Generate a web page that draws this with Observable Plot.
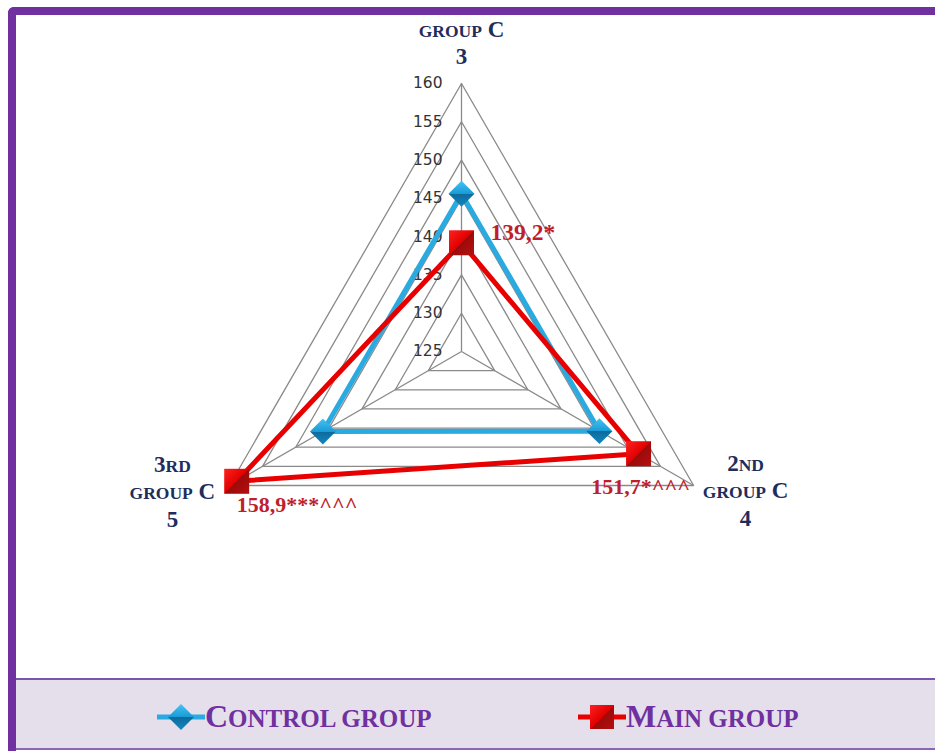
<!DOCTYPE html>
<html><head><meta charset="utf-8">
<script src="https://cdn.jsdelivr.net/npm/d3@7"></script>
<script src="https://cdn.jsdelivr.net/npm/@observablehq/plot@0.6"></script>
<style>
html,body{margin:0;padding:0;background:#fff;overflow:hidden;width:935px;height:751px;position:relative}
#chart{position:absolute;left:0;top:0}
#frameL{position:absolute;left:8px;top:7px;width:8px;height:760px;background:#7030a0;border-top-left-radius:6px}
#frameT{position:absolute;left:8px;top:7px;width:1000px;height:8px;background:#7030a0;border-top-left-radius:6px}
#legend{position:absolute;left:16px;top:678px;width:930px;height:72px;background:#e5dfec;border-top:2px solid #7a55a8;border-bottom:2px solid #8a66b5;box-sizing:border-box}
.item{position:absolute;top:17px;height:40px;display:flex;align-items:center}
.lt{font-family:"Liberation Serif",serif;font-weight:bold;color:#7030a0;font-size:25px;line-height:40px;white-space:nowrap}
.big{font-size:32px}
</style></head>
<body>
<div id="chart"></div>
<div id="frameL"></div><div id="frameT"></div>
<div id="legend">
  <div class="item" style="left:141px">
    <svg width="48" height="30" style="display:block">
      <defs>
        <linearGradient id="lgC" x1="0" y1="0" x2="0" y2="1"><stop offset="0" stop-color="#45c3f5"/><stop offset="0.5" stop-color="#1a9ad6"/><stop offset="0.5" stop-color="#0d6a9c"/><stop offset="1" stop-color="#1487c2"/></linearGradient>
      </defs>
      <line x1="0" y1="15" x2="48" y2="15" stroke="#29abe2" stroke-width="5"/>
      <path d="M24,2 L37,15 L24,28 L11,15 Z" fill="url(#lgC)"/>
    </svg>
    <span class="lt"><span class="big">C</span>ONTROL GROUP</span>
  </div>
  <div class="item" style="left:562px">
    <svg width="48" height="30" style="display:block">
      <defs>
        <linearGradient id="lgM" x1="0" y1="0" x2="1" y2="1"><stop offset="0" stop-color="#ff2020"/><stop offset="0.5" stop-color="#e00000"/><stop offset="0.5" stop-color="#9c0a0a"/><stop offset="1" stop-color="#b51010"/></linearGradient>
      </defs>
      <line x1="0" y1="15" x2="48" y2="15" stroke="#e80000" stroke-width="5"/>
      <rect x="12" y="3" width="24" height="24" fill="url(#lgM)"/>
    </svg>
    <span class="lt"><span class="big">M</span>AIN GROUP</span>
  </div>
</div>
<script>
// ---- data ----
const categories = ["group C\n3", "2nd\ngroup C\n4", "3rd\ngroup C\n5"];
const ticks = [125, 130, 135, 140, 145, 150, 155, 160];
const controlValues = [145.6, 145.8, 145.9];
const mainValues = [139.2, 151.7, 158.9];
const mainLabels = ["139,2*", "151,7*^^^", "158,9***^^^"];

// ---- geometry ----
const W = 935, H = 678;
const cx = 461, cy = 351;          // pixel centre of the radar
const rMin = ticks[0], rMax = ticks[ticks.length - 1];
const k = 268 / (rMax - rMin);     // pixels per unit
const n = categories.length;
const ang = i => (i * 2 * Math.PI) / n;
const X = (v, i) => (v - rMin) * Math.sin(ang(i));
const Y = (v, i) => (v - rMin) * Math.cos(ang(i));

const rings = ticks.filter(t => t > rMin).flatMap(t => categories.map((c, i) => ({t, x: X(t, i), y: Y(t, i)})));
const spokes = categories.map((c, i) => ({x2: X(rMax, i), y2: Y(rMax, i)}));
const ctrl = controlValues.map((v, i) => ({x: X(v, i), y: Y(v, i)}));
const main = mainValues.map((v, i) => ({x: X(v, i), y: Y(v, i), label: mainLabels[i]}));

const catOffsets = [{dx: 0, dy: -42}, {dx: 52, dy: 4}, {dx: -57, dy: 5}];
const lblOffsets = [{dx: 29, dy: -10, textAnchor: "start"}, {dx: 2, dy: 33, textAnchor: "middle"}, {dx: 0, dy: 24, textAnchor: "start"}];

const serif = "'Liberation Serif', 'Times New Roman', serif";
const grid = "#8a8a8a";

const plot = Plot.plot({
  width: W, height: H,
  margin: 0,
  x: {domain: [-cx / k, (W - cx) / k], range: [0, W], axis: null},
  y: {domain: [-(H - cy) / k, cy / k], range: [H, 0], axis: null},
  style: {background: "transparent", overflow: "visible"},
  marks: [
    Plot.line(rings, {x: "x", y: "y", z: "t", curve: "linear-closed", stroke: grid, strokeWidth: 1.3}),
    Plot.link(spokes, {x1: 0, y1: 0, x2: "x2", y2: "y2", stroke: grid, strokeWidth: 1.3}),
    Plot.text(ticks, {x: 0, y: t => t - rMin, text: d => String(d), textAnchor: "end", dx: -19, fontSize: 15.5, fontFamily: "'DejaVu Sans', sans-serif", fill: "#333333"}),
    Plot.line(ctrl, {x: "x", y: "y", curve: "linear-closed", stroke: "#29abe2", strokeWidth: 5, strokeLinejoin: "miter"}),
    Plot.line(main, {x: "x", y: "y", curve: "linear-closed", stroke: "#e80000", strokeWidth: 5, strokeLinejoin: "miter"}),
    Plot.dot(ctrl, {x: "x", y: "y", symbol: "diamond2", r: 11.7, fill: "url(#gC)", stroke: "none"}),
    Plot.dot(main, {x: "x", y: "y", symbol: "square", r: 14.1, fill: "url(#gM)", stroke: "none"}),
    ...main.map((d, i) => Plot.text([d], {x: "x", y: "y", text: "label", ...lblOffsets[i], fontSize: i === 0 ? 23.5 : 22, fontWeight: "bold", fontFamily: serif, fill: "#be1e2d"})),
    ...categories.map((c, i) => Plot.text([c], {x: X(rMax, i), y: Y(rMax, i), text: d => d, ...catOffsets[i], lineAnchor: "middle", lineHeight: 1.25, fontSize: 22, fontWeight: "bold", fontFamily: serif, fill: "#1f2d5c", textAnchor: "middle"}))
  ]
});

// gradients for the marker shading
const svg = d3.select(plot);
const defs = svg.insert("defs", ":first-child");
const gC = defs.append("linearGradient").attr("id", "gC").attr("x1", 0).attr("y1", 0).attr("x2", 0).attr("y2", 1);
[[0, "#45c3f5"], [0.5, "#1a9ad6"], [0.5, "#0d6a9c"], [1, "#1487c2"]].forEach(([o, c]) => gC.append("stop").attr("offset", o).attr("stop-color", c));
const gM = defs.append("linearGradient").attr("id", "gM").attr("x1", 0).attr("y1", 0).attr("x2", 1).attr("y2", 1);
[[0, "#ff2020"], [0.5, "#e00000"], [0.5, "#9c0a0a"], [1, "#b51010"]].forEach(([o, c]) => gM.append("stop").attr("offset", o).attr("stop-color", c));

// small caps for category labels: lowercase letters rendered as smaller capitals
svg.selectAll("text").each(function () {
  if (!/[a-z]/.test(this.textContent)) return;
  const tspans = this.querySelectorAll("tspan");
  const lines = tspans.length ? Array.from(tspans) : [this];
  lines.forEach(el => {
    const s = el.textContent;
    el.textContent = "";
    const runs = s.match(/[a-z]+|[^a-z]+/g) || [];
    runs.forEach(r => {
      const small = /[a-z]/.test(r);
      const t = document.createElementNS("http://www.w3.org/2000/svg", "tspan");
      t.textContent = small ? r.toUpperCase() : r;
      t.setAttribute("font-size", small ? 17.5 : 23);
      el.appendChild(t);
    });
  });
});

document.getElementById("chart").appendChild(plot);
</script>
</body></html>
